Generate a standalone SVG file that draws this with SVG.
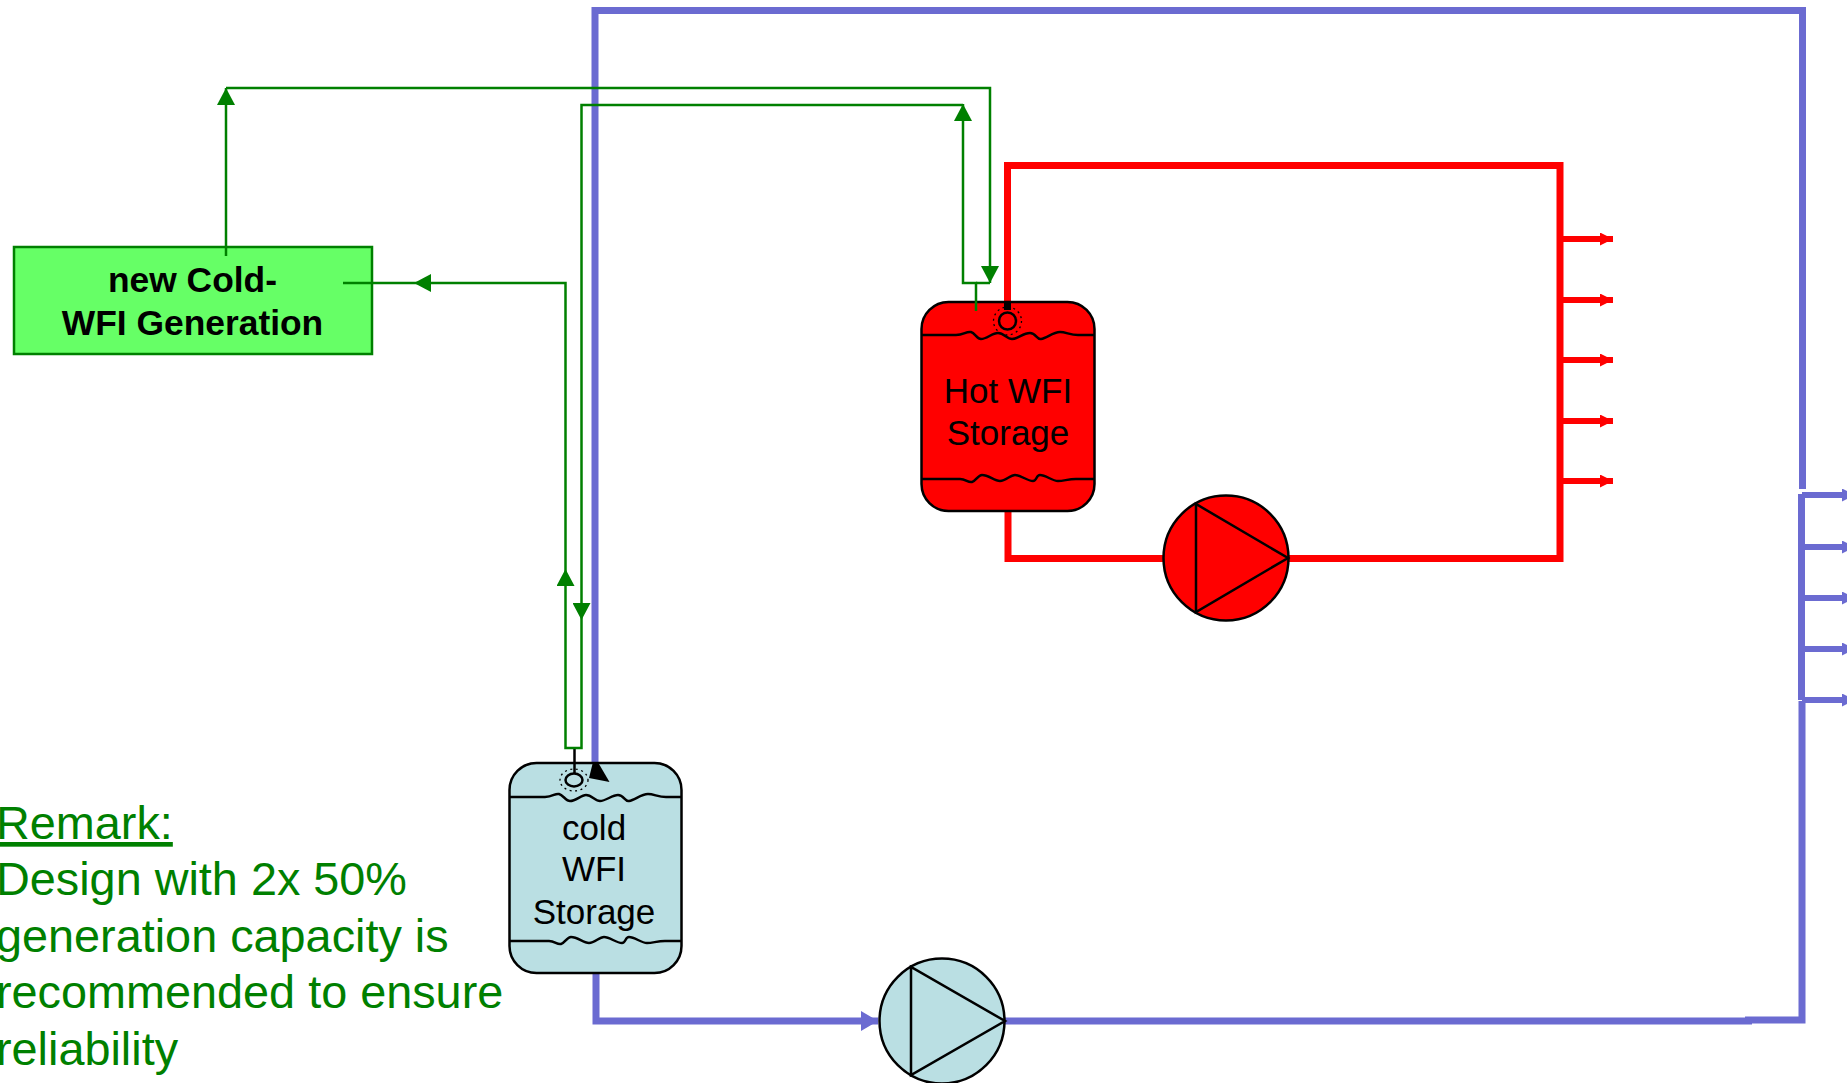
<svg xmlns="http://www.w3.org/2000/svg" width="1847" height="1083" viewBox="0 0 1847 1083">
<defs>
<style>
.t{font-family:"Liberation Sans",Arial,sans-serif;fill:#000;text-anchor:middle;font-size:35px}
.b{font-weight:bold;font-size:35.4px}
.r{font-family:"Liberation Sans",Arial,sans-serif;fill:#008000;font-size:46.8px}
.k{fill:none;stroke:#000;stroke-width:2.5}
.g{fill:none;stroke:#008000;stroke-width:2.5}
.bl{fill:none;stroke:#6b6bd1;stroke-width:7}
.bb{fill:none;stroke:#6b6bd1;stroke-width:6}
.rd{fill:none;stroke:#f00;stroke-width:7}
.rb{fill:none;stroke:#f00;stroke-width:6}
.d{fill:none;stroke:#000;stroke-width:1.3;stroke-dasharray:2 3.5}
</style>
<marker id="ag" markerUnits="userSpaceOnUse" markerWidth="18" markerHeight="18" refX="17" refY="9" orient="auto"><path d="M0 0L17 9L0 18Z" fill="#008000"/></marker>
<marker id="ar" markerUnits="userSpaceOnUse" markerWidth="14" markerHeight="14" refX="13" refY="6.500" orient="auto"><path d="M0 0L13 6.500L0 13Z" fill="#f00"/></marker>
<marker id="ab" markerUnits="userSpaceOnUse" markerWidth="18" markerHeight="20" refX="17" refY="10" orient="auto"><path d="M0 0L17 10L0 20Z" fill="#6b6bd1"/></marker>
<marker id="as" markerUnits="userSpaceOnUse" markerWidth="14" markerHeight="14" refX="13" refY="6.500" orient="auto"><path d="M0 0L13 6.500L0 13Z" fill="#6b6bd1"/></marker>
</defs>
<g id="connectors">
<path class="bl" d="M595 765V10.500H1802.500V489"/>
<path class="bl" d="M1801.500 494V700"/>
<path class="bl" d="M1802 701V1020H1745"/>
<path class="bl" d="M1752 1021H1005"/>
<path class="bl" d="M596 973V1021H878" marker-end="url(#ab)"/>
<g class="bb"><path d="M1802 495H1855" marker-end="url(#as)"/><path d="M1802 547H1855" marker-end="url(#as)"/><path d="M1802 598H1855" marker-end="url(#as)"/><path d="M1802 649H1855" marker-end="url(#as)"/><path d="M1802 700H1855" marker-end="url(#as)"/></g>
<path class="rd" d="M1007.500 305V165.500H1560V558.500H1288"/>
<path class="rd" d="M1008 511V558.500H1163"/>
<g class="rb"><path d="M1560 239H1613" marker-end="url(#ar)"/><path d="M1560 300H1613" marker-end="url(#ar)"/><path d="M1560 360H1613" marker-end="url(#ar)"/><path d="M1560 421H1613" marker-end="url(#ar)"/><path d="M1560 481H1613" marker-end="url(#ar)"/></g>
</g>
<g id="hot-storage">
<rect x="921.500" y="302" width="173" height="209" rx="27" fill="#f00" stroke="#000" stroke-width="2.500"/>
<path class="k" d="M922 335H956C964 335 966 331 971 332C975 333 977 339 981 339C987 339 992 333 998 333C1004 333 1007 339 1012 339C1018 339 1023 333 1030 333C1036 333 1037 340 1041 339C1047 338 1053 332 1060 332C1066 332 1070 335 1078 335H1094"/>
<path class="k" d="M922 479H960C966 479 968 483 972 482C976 481 978 475 982 475C989 475 994 481 1000 481C1006 481 1010 475 1015 475C1021 475 1027 481 1033 481C1037 481 1036 475 1040 475C1046 475 1052 481 1058 481C1064 481 1068 479 1076 479H1094"/>
<ellipse class="k" cx="1007.500" cy="321" rx="8.500" ry="8.500"/>
<rect x="1004" y="303" width="7" height="7" fill="#000"/>
<circle class="d" cx="1007.500" cy="321" r="14"/>
<text class="t" x="1008" y="403">Hot WFI</text>
<text class="t" x="1008" y="445">Storage</text>
</g>
<g id="hot-pump">
<circle cx="1226" cy="558" r="62.500" fill="#f00" stroke="#000" stroke-width="2.500"/>
<path class="k" d="M1196 504V612L1288 558Z"/>
</g>
<g id="cold-storage">
<rect x="509.500" y="763" width="172" height="210" rx="27" fill="#badfe3" stroke="#000" stroke-width="2.500"/>
<path class="k" d="M510 797H545C553 797 555 793 559 794C563 795 566 801 570 801C576 801 581 795 586 795C592 795 595 801 600 801C606 801 612 795 618 795C624 795 625 802 629 801C635 800 641 794 648 794C654 794 658 797 666 797H682"/>
<path class="k" d="M510 941H549C555 941 557 945 561 944C565 943 567 937 571 937C578 937 583 943 589 943C595 943 599 937 604 937C610 937 616 943 622 943C626 943 625 937 629 937C635 937 641 943 647 943C653 943 657 941 665 941H682"/>
<ellipse class="k" cx="574" cy="780" rx="8.500" ry="6.500"/>
<ellipse class="d" cx="574" cy="780" rx="14" ry="11"/>
<path d="M574.500 748V773" stroke="#000" stroke-width="2.500" fill="none"/>
<path d="M592.500 764H599L609.500 782L589 778Z" fill="#000"/>
<text class="t" x="594" y="840">cold</text>
<text class="t" x="594" y="881">WFI</text>
<text class="t" x="594" y="924">Storage</text>
</g>
<g id="cold-pump">
<circle cx="942" cy="1021" r="62.500" fill="#badfe3" stroke="#000" stroke-width="2.500"/>
<path class="k" d="M911 967V1075L1005 1021Z"/>
</g>
<g id="generation">
<rect x="14" y="247" width="358" height="107" fill="#66ff66" stroke="#008000" stroke-width="2.500"/>
<text class="t b" x="192.500" y="292">new Cold-</text>
<text class="t b" x="192.500" y="335">WFI Generation</text>
</g>
<g id="green-connectors">
<path class="g" d="M226 256V88" marker-end="url(#ag)"/>
<path class="g" d="M226 88H990V283" marker-end="url(#ag)"/>
<path class="g" d="M976 311V283H963V104" marker-end="url(#ag)"/>
<path class="g" d="M976 283H990"/>
<path class="g" d="M963 105H581.500V620" marker-end="url(#ag)"/>
<path class="g" d="M581.500 620V748H565.500V569" marker-end="url(#ag)"/>
<path class="g" d="M565.500 569V283H414" marker-end="url(#ag)"/>
<path class="g" d="M414 283H343"/>
</g>
<g id="remark">
<text class="r" x="-4" y="839" text-decoration="underline">Remark:</text>
<text class="r" x="-4" y="895">Design with 2x 50%</text>
<text class="r" x="-4" y="952">generation capacity is</text>
<text class="r" x="-4" y="1008">recommended to ensure</text>
<text class="r" x="-4" y="1065">reliability</text>
</g>
</svg>
